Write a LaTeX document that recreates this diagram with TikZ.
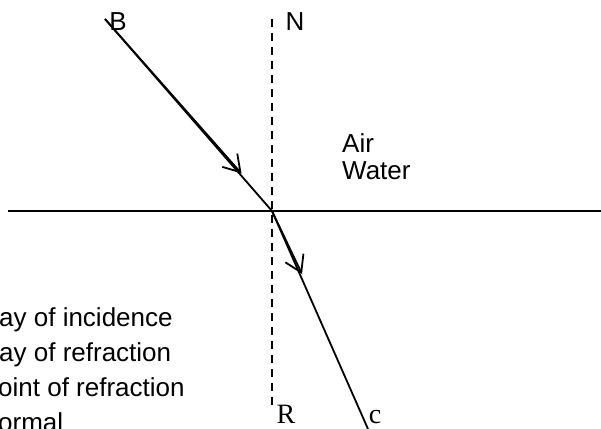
\documentclass[tikz,border=0pt]{standalone}
\usepackage{fontspec}
\setmainfont{Liberation Sans}
\newfontfamily\timesf{Liberation Serif}
\usetikzlibrary{arrows.meta,decorations.markings}
\begin{document}
\begin{tikzpicture}[x=1pt,y=-1pt,
  lbl/.style={font=\fontsize{26}{30}\selectfont, inner sep=0pt},
  slbl/.style={font=\timesf\fontsize{28}{32}\selectfont, inner sep=0pt},
  ray/.style={line width=1.8pt},
  barb/.style={line width=1.8pt,-{Straight Barb[length=16pt,width=20pt,line width=1.8pt]}},
  normal/.style={line width=1.8pt, dash pattern=on 8pt off 6pt}]
\useasboundingbox (0,0) rectangle (601,428);
\clip (0,0) rectangle (601,428);
% points
\coordinate (O) at (272,211);
\coordinate (Bp) at (105,19);
\coordinate (Cp) at (368,429);
\coordinate (Nt) at (272,19);
\coordinate (Rb) at (272,405);
\coordinate (Sl) at (8,211);
\coordinate (Sr) at (601,211);
\coordinate (A1) at (241.5,173.5);
\coordinate (A2) at (302,274);
% surface
\draw[line width=2.2pt] (Sl) -- (Sr);
% normal
\draw[normal] (Nt) -- (Rb);
% incident ray
\draw[ray] (Bp) -- (O);
\draw[barb] (Bp) -- (A1);
% refracted ray
\draw[ray] (O) -- (Cp);
\draw[barb] (O) -- (A2);
% labels
\node[lbl] (B) at (118,22) {B};
\node[lbl] (N) at (295,22) {N};
\node[lbl, anchor=base west] (air) at (342,152) {Air};
\node[lbl, anchor=base west] (water) at (342,179) {Water};
\node[slbl, anchor=base] (R) at (286,423) {R};
\node[slbl, anchor=base] (c) at (375,423) {c};
\node[lbl, anchor=base west] (t1) at (-1,326) {ay of incidence};
\node[lbl, anchor=base west] (t2) at (-1,361) {ay of refraction};
\node[lbl, anchor=base west] (t3) at (-2,396) {oint of refraction};
\node[lbl, anchor=base west] (t4) at (-2,431) {ormal};
\end{tikzpicture}
\end{document}
